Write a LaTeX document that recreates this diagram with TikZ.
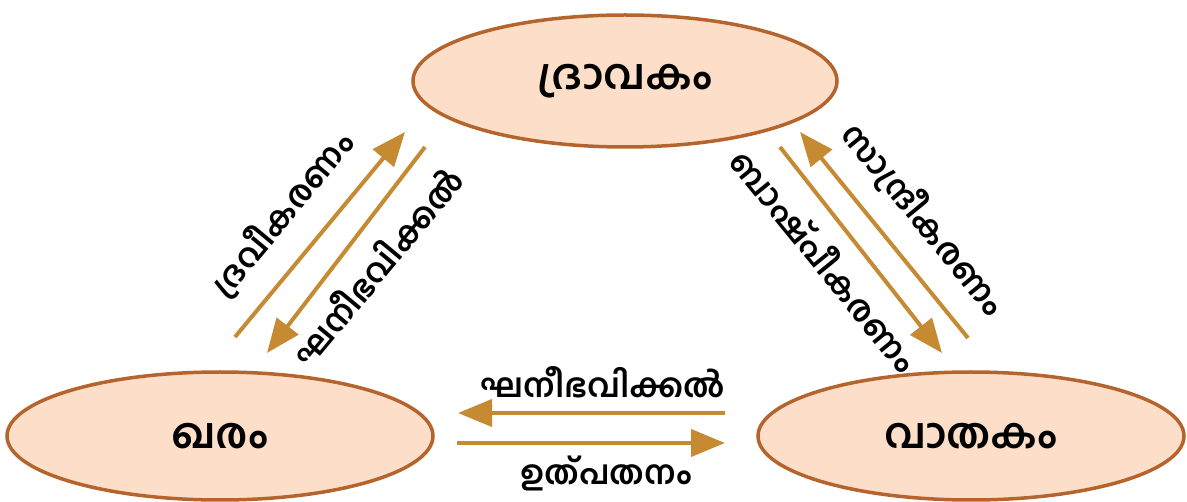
\documentclass[tikz,border=0pt]{standalone}
\usepackage{fontspec}
\setmainfont{Hind Kochi}[Script=Malayalam]
\usetikzlibrary{arrows.meta,shapes.geometric}
\definecolor{arrcol}{HTML}{C68A33}
\definecolor{ellfill}{HTML}{FDDFC9}
\definecolor{elldraw}{HTML}{B5642D}
\begin{document}
\begin{tikzpicture}[x=1pt,y=-1pt,
  state/.style={ellipse, draw=elldraw, fill=ellfill, line width=3.5pt, inner sep=0pt,
    font=\fontsize{42}{44}\selectfont\bfseries, text=black},
  conv/.style={draw=arrcol, line width=4pt, -{Triangle[length=34pt,width=27pt]}, arrcol},
  lbl/.style={font=\fontsize{33}{35}\selectfont\bfseries, text=black, inner sep=0pt}]
\useasboundingbox (0,0) rectangle (1187,502);
\node[state, minimum width=424pt, minimum height=132pt] (liq) at (625,81) {ദ്രാവകം};
\node[state, minimum width=426pt, minimum height=128pt] (sol) at (220,436) {ഖരം};
\node[state, minimum width=426pt, minimum height=128pt] (gas) at (971,436) {വാതകം};
% left pair
\coordinate (l1s) at (235,337); \coordinate (l1e) at (405,132);
\coordinate (l2s) at (425,147); \coordinate (l2e) at (267,353);
\draw[conv] (l1s) -- (l1e);
\draw[conv] (l2s) -- (l2e);
\node[lbl, rotate=50.3] (t1) at (282,214) {ദ്രവീകരണം};
\node[lbl, rotate=50.3] (t2) at (376,266) {ഘനീഭവിക്കൽ};
% right pair
\coordinate (r1s) at (780,147); \coordinate (r1e) at (942,353);
\coordinate (r2s) at (968,338); \coordinate (r2e) at (800,132);
\draw[conv] (r1s) -- (r1e);
\draw[conv] (r2s) -- (r2e);
\node[lbl, rotate=-50.8] (t3) at (826,259) {ബാഷ്പീകരണം};
\node[lbl, rotate=-50.8] (t4) at (924,219) {സാന്ദ്രീകരണം};
% bottom pair
\coordinate (b1s) at (725,413); \coordinate (b1e) at (458,413);
\coordinate (b2s) at (457,443); \coordinate (b2e) at (725,443);
\draw[conv] (b1s) -- (b1e);
\draw[conv] (b2s) -- (b2e);
\node[lbl] (t5) at (603,382) {ഘനീഭവിക്കൽ};
\node[lbl] (t6) at (606,473) {ഉത്പതനം};
\end{tikzpicture}
\end{document}
